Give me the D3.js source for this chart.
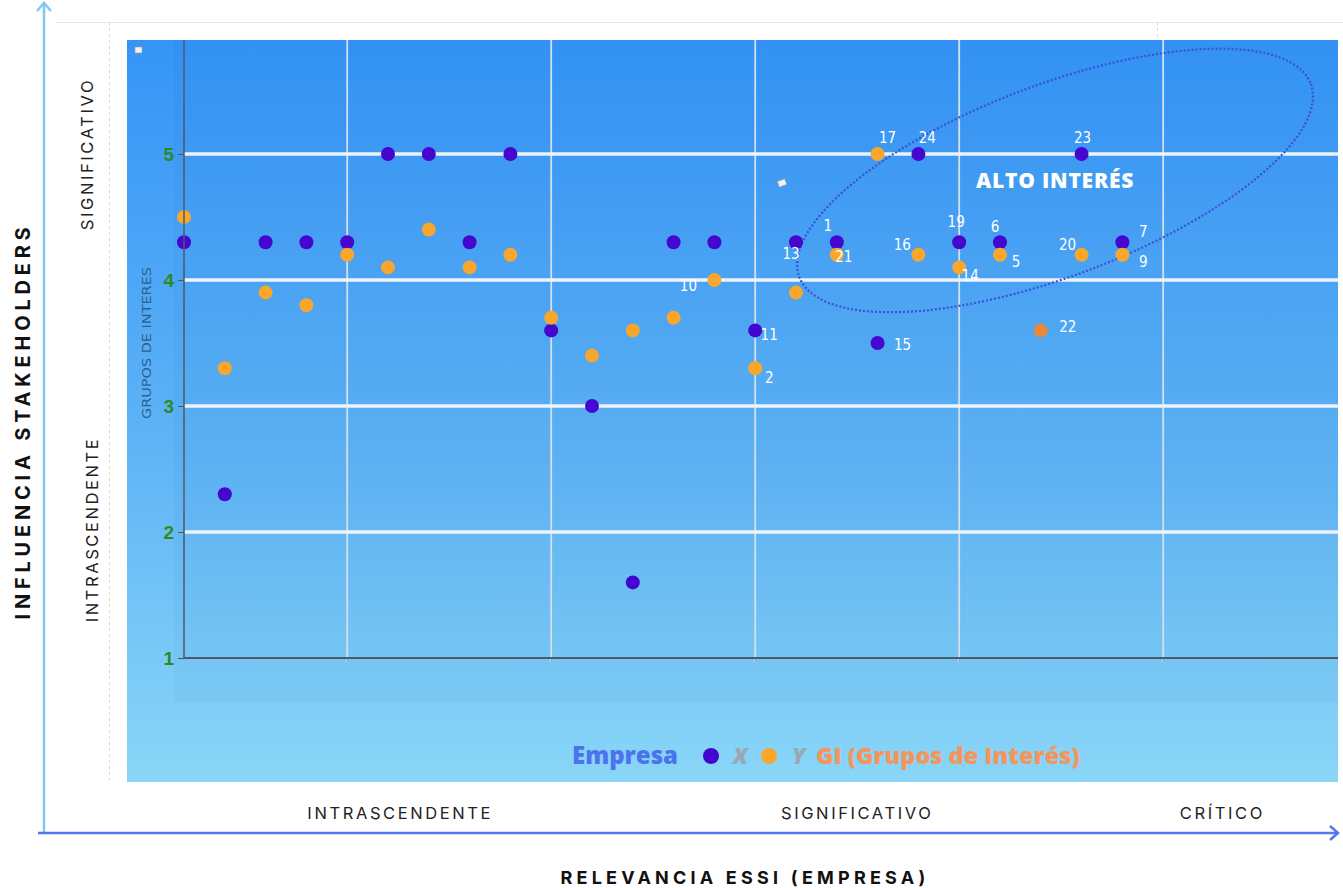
<!DOCTYPE html>
<html>
<head>
<meta charset="utf-8">
<script src="https://cdn.jsdelivr.net/npm/d3@7"></script>
<style>
  body { margin: 0; background: #fff; }
  svg { display: block; }
</style>
</head>
<body>
<svg id="chart"></svg>
<script>
// x position of each topic (relevancia empresa)
const xValues = [0.2, 0.4, 0.6, 0.8, 1.0, 1.2, 1.4, 1.6, 1.8, 2.0, 2.2, 2.4,
                 2.6, 2.8, 3.0, 3.2, 3.4, 3.6, 3.8, 4.0, 4.2, 4.4, 4.6, 4.8];
// Empresa (purple) values
const empresaValues = [4.3, 2.3, 4.3, 4.3, 4.3, 5.0, 5.0, 4.3, 5.0, 3.6, 3.0, 1.6,
                       4.3, 4.3, 3.6, 4.3, 4.3, 3.5, 5.0, 4.3, 4.3, null, 5.0, 4.3];
// GI - grupos de interes (orange) values
const giValues = [4.5, 3.3, 3.9, 3.8, 4.2, 4.1, 4.4, 4.1, 4.2, 3.7, 3.4, 3.6,
                  3.7, 4.0, 3.3, 3.9, 4.2, 5.0, 4.2, 4.1, 4.2, 3.6, 4.2, 4.2];
// topic numbers shown next to the points ("" = no label)
const empresaLabels = ["", "", "", "", "", "", "", "", "", "", "", "",
                       "", "", "11", "13", "1", "15", "24", "19", "6", "", "23", "7"];
const giLabels = ["", "", "", "", "", "", "", "", "", "", "", "",
                  "", "10", "2", "", "21", "17", "16", "14", "5", "22", "20", "9"];
const yTicks = [1, 2, 3, 4, 5];
const xGrid = [1, 2, 3, 4, 5];
const xZones = ["INTRASCENDENTE", "SIGNIFICATIVO", "CRÍTICO"];
const yZones = ["SIGNIFICATIVO", "INTRASCENDENTE"];

const W = 1343, H = 888;
const svg = d3.select("#chart").attr("width", W).attr("height", H);

const plot = { left: 184, right: 1338, top: 40, bottom: 658 };
const x = d3.scaleLinear().domain([0.2, 5.857]).range([plot.left, plot.right]);
const y = d3.scaleLinear().domain([1, 5]).range([plot.bottom, 154]);

const defs = svg.append("defs");
const grad = defs.append("linearGradient").attr("id", "bg").attr("x1", 0).attr("y1", 0).attr("x2", 0).attr("y2", 1);
grad.append("stop").attr("offset", "0%").attr("stop-color", "#3594f7");
grad.append("stop").attr("offset", "55%").attr("stop-color", "#5fb4f6");
grad.append("stop").attr("offset", "100%").attr("stop-color", "#8ad6f8");
defs.append("clipPath").attr("id", "clip").append("rect")
    .attr("x", 127).attr("y", plot.top).attr("width", plot.right - 127).attr("height", 742);

// outer frame lines (light gray)
svg.append("line").attr("x1", 55).attr("x2", W).attr("y1", 22.5).attr("y2", 22.5)
    .attr("stroke", "#e6e6e6").attr("stroke-width", 1);
svg.append("line").attr("x1", 109.5).attr("x2", 109.5).attr("y1", 22).attr("y2", 780)
    .attr("stroke", "#d8d8d8").attr("stroke-dasharray", "3,3");
svg.append("line").attr("x1", 1157.5).attr("x2", 1157.5).attr("y1", 22).attr("y2", 40)
    .attr("stroke", "#d8d8d8").attr("stroke-dasharray", "3,3");

// background panel
svg.append("rect").attr("x", 127).attr("y", plot.top).attr("width", plot.right - 127).attr("height", 742)
    .attr("fill", "url(#bg)");
svg.append("rect").attr("x", 174).attr("y", plot.top).attr("width", plot.right - 174).attr("height", 662)
    .attr("fill", "#0a4f9a").attr("opacity", 0.04);

const g = svg.append("g").attr("clip-path", "url(#clip)");

// vertical grid
g.selectAll(".vgrid").data(xGrid).enter().append("line")
    .attr("class", "vgrid")
    .attr("x1", d => x(d)).attr("x2", d => x(d))
    .attr("y1", plot.top).attr("y2", plot.bottom + 4)
    .attr("stroke", "#d3dfea").attr("stroke-width", 1.8);

// horizontal grid
g.selectAll(".hgrid").data(yTicks.filter(d => d > 1)).enter().append("line")
    .attr("class", "hgrid")
    .attr("x1", plot.left).attr("x2", plot.right)
    .attr("y1", d => y(d)).attr("y2", d => y(d))
    .attr("stroke", "#eef3f8").attr("stroke-width", 3.5);

// axes
const yAxis = svg.append("g").attr("transform", `translate(${plot.left},0)`)
    .call(d3.axisLeft(y).tickValues(yTicks).tickSize(6).tickFormat(d3.format("d")));
yAxis.select(".domain").remove();
yAxis.selectAll(".tick line").attr("stroke", "#555");
yAxis.selectAll(".tick text")
    .attr("fill", "#2d8a22").attr("font-family", "Arial, 'Liberation Sans', sans-serif")
    .attr("font-weight", "bold").attr("font-size", 19).attr("x", -10);
svg.append("line").attr("x1", plot.left).attr("x2", plot.left).attr("y1", plot.top).attr("y2", plot.bottom)
    .attr("stroke", "#4b5a68").attr("stroke-width", 1.5);

const xAxis = svg.append("g").attr("transform", `translate(0,${plot.bottom})`)
    .call(d3.axisBottom(x).tickValues(xGrid).tickSize(4).tickFormat(""));
xAxis.select(".domain").remove();
xAxis.selectAll(".tick line").attr("stroke", "#8a9aa8");
svg.append("line").attr("x1", plot.left).attr("x2", plot.right).attr("y1", plot.bottom).attr("y2", plot.bottom)
    .attr("stroke", "#4b5a68").attr("stroke-width", 2);

// small widget icons
svg.append("rect").attr("x", 135).attr("y", 47).attr("width", 7).attr("height", 6)
    .attr("fill", "#f2f2f2").attr("stroke", "#999").attr("stroke-width", 0.6);
svg.append("rect").attr("x", 778).attr("y", 180).attr("width", 8).attr("height", 6)
    .attr("fill", "#f2f2f2").attr("stroke", "#999").attr("stroke-width", 0.6)
    .attr("transform", "rotate(-20,782,183)");

// axis title inside panel
svg.append("text")
    .attr("transform", `translate(151,${y(3.5)}) rotate(-90)`)
    .attr("text-anchor", "middle")
    .attr("font-family", "'DejaVu Sans Condensed', Arial, sans-serif").attr("font-size", 13)
    .attr("textLength", 152).attr("lengthAdjust", "spacingAndGlyphs")
    .attr("fill", "#2f5d8c")
    .text("GRUPOS DE INTERES");

// ALTO INTERES ellipse
const zone = { cx: 4.47, cy: 4.79, rx: 1.34, ry: 0.76, angle: -20.7 };
const ecx = x(zone.cx), ecy = y(zone.cy);
g.append("ellipse")
    .attr("cx", ecx).attr("cy", ecy)
    .attr("rx", x(zone.cx + zone.rx) - ecx)
    .attr("ry", y(zone.cy - zone.ry) - ecy)
    .attr("transform", `rotate(${zone.angle},${ecx},${ecy})`)
    .attr("fill", "none").attr("stroke", "#3a50d8").attr("stroke-width", 2.2)
    .attr("stroke-dasharray", "2,2");
svg.append("text")
    .attr("x", x(4.47)).attr("y", y(4.79)).attr("dy", "0.35em")
    .attr("text-anchor", "middle")
    .attr("font-family", "'Open Sans', Arial, sans-serif").attr("font-weight", 800)
    .attr("font-size", 21).attr("letter-spacing", 0.8).attr("fill", "#ffffff")
    .text("ALTO INTERÉS");

// points
const points = xValues.map((xv, i) => ({
    x: xv, e: empresaValues[i], gi: giValues[i], eLabel: empresaLabels[i], giLabel: giLabels[i]
}));

g.selectAll(".emp").data(points.filter(d => d.e !== null)).enter().append("circle")
    .attr("class", "emp")
    .attr("cx", d => x(d.x)).attr("cy", d => y(d.e)).attr("r", 7)
    .attr("fill", "#4506cf");

g.selectAll(".gi").data(points).enter().append("circle")
    .attr("class", "gi")
    .attr("cx", d => x(d.x)).attr("cy", d => y(d.gi)).attr("r", 7)
    .attr("fill", d => d.giLabel === "22" ? "#e8883c" : "#f8a62c");

// label offsets (px) relative to their point
const eOff = { "11": [14, 4], "13": [-5, 12], "1": [-9, -16], "15": [25, 2], "24": [9, -16],
               "19": [-3, -20], "6": [-5, -15], "23": [1, -16], "7": [21, -10] };
const gOff = { "10": [-26, 6], "2": [14, 10], "21": [7, 2], "17": [10, -16], "16": [-16, -10],
               "14": [11, 8], "5": [16, 7], "20": [-14, -10], "9": [21, 7], "22": [27, -4] };

const labelFont = "'DejaVu Sans Condensed', 'Liberation Sans Narrow', sans-serif";
function numLabel(sel) {
    sel.attr("dy", "0.35em").attr("text-anchor", "middle")
        .attr("font-family", labelFont).attr("font-size", 15).attr("fill", "#fff")
        .style("font-stretch", "condensed");
}
svg.selectAll(".elab").data(points.filter(d => d.eLabel)).enter().append("text")
    .attr("class", "elab")
    .attr("x", d => x(d.x) + eOff[d.eLabel][0]).attr("y", d => y(d.e) + eOff[d.eLabel][1])
    .call(numLabel)
    .text(d => d.eLabel);
svg.selectAll(".glab").data(points.filter(d => d.giLabel)).enter().append("text")
    .attr("class", "glab")
    .attr("x", d => x(d.x) + gOff[d.giLabel][0]).attr("y", d => y(d.gi) + gOff[d.giLabel][1])
    .call(numLabel)
    .text(d => d.giLabel);

// legend
const leg = svg.append("g").attr("font-family", "'Open Sans', sans-serif").attr("font-weight", 800);
leg.append("text").attr("x", 572).attr("y", 764).attr("font-size", 24).attr("fill", "#4d72ee").text("Empresa");
leg.append("circle").attr("cx", 711).attr("cy", 756).attr("r", 8).attr("fill", "#4506cf");
leg.append("text").attr("x", 733).attr("y", 764).attr("font-size", 22).attr("font-style", "italic")
    .attr("fill", "#9aa7b4").text("X");
leg.append("circle").attr("cx", 769).attr("cy", 756).attr("r", 8).attr("fill", "#f8a62c");
leg.append("text").attr("x", 792).attr("y", 764).attr("font-size", 22).attr("font-style", "italic")
    .attr("fill", "#9aa7b4").text("Y");
leg.append("text").attr("x", 816).attr("y", 764).attr("font-size", 23.5).attr("fill", "#f5955a")
    .text("GI (Grupos de Interés)");

// outer axes with arrows
const outerFont = "Inter, 'Open Sans', sans-serif";
svg.append("line").attr("x1", 44).attr("x2", 44).attr("y1", 3).attr("y2", 834)
    .attr("stroke", "#82c6f4").attr("stroke-width", 2.5);
svg.append("path").attr("d", "M37,11 L44,3 L51,11")
    .attr("fill", "none").attr("stroke", "#82c6f4").attr("stroke-width", 2.5);
svg.append("line").attr("x1", 38).attr("x2", 1338).attr("y1", 833).attr("y2", 833)
    .attr("stroke", "#5577ee").attr("stroke-width", 2.5);
svg.append("path").attr("d", "M1330,826 L1338,833 L1330,840")
    .attr("fill", "none").attr("stroke", "#5577ee").attr("stroke-width", 2.5);

// zone labels
const xZonePos = [1.26, 3.5, 5.29];
svg.selectAll(".xzone").data(xZones).enter().append("text")
    .attr("class", "xzone")
    .attr("x", (d, i) => x(xZonePos[i])).attr("y", 819)
    .attr("text-anchor", "middle").attr("font-family", outerFont).attr("font-size", 16.5)
    .attr("letter-spacing", 2.6).attr("fill", "#222").text(d => d);

const yZonePos = [5.0, 2.02];
svg.selectAll(".yzone").data(yZones).enter().append("text")
    .attr("class", "yzone")
    .attr("transform", (d, i) => `translate(${i === 0 ? 93 : 98},${y(yZonePos[i])}) rotate(-90)`)
    .attr("text-anchor", "middle").attr("font-family", outerFont).attr("font-size", 16.5)
    .attr("letter-spacing", 2.6).attr("fill", "#222").text(d => d);

svg.append("text")
    .attr("x", 745).attr("y", 884).attr("text-anchor", "middle")
    .attr("font-family", outerFont).attr("font-weight", 700).attr("font-size", 18)
    .attr("letter-spacing", 4.2).attr("fill", "#111")
    .text("RELEVANCIA ESSI (EMPRESA)");
svg.append("text")
    .attr("transform", `translate(30,421) rotate(-90)`).attr("text-anchor", "middle")
    .attr("font-family", outerFont).attr("font-weight", 700).attr("font-size", 20)
    .attr("letter-spacing", 4.8).attr("fill", "#111")
    .text("INFLUENCIA STAKEHOLDERS");
</script>
</body>
</html>
